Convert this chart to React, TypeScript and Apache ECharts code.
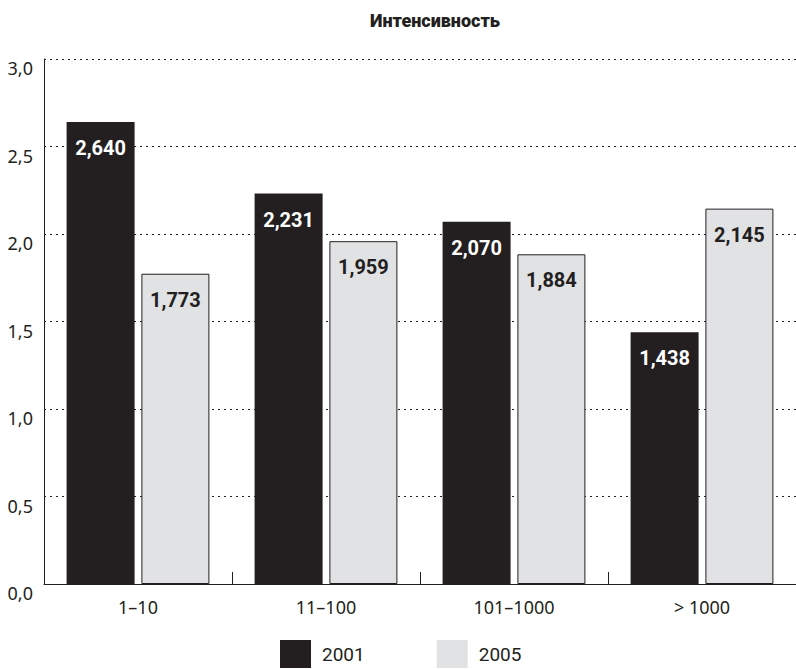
import React, { useEffect, useRef } from "react";
import * as echarts from "echarts";

const categories = ["1–10", "11–100", "101–1000", "> 1000"];
const series2001 = [2.64, 2.231, 2.07, 1.438];
const series2005 = [1.773, 1.959, 1.884, 2.145];
const seriesNames = ["2001", "2005"];
const titleText = "Интенсивность";

const DARK = "#231f20";
const LIGHT = "#e1e2e4";
const REG = "'Noto Sans', 'Open Sans', sans-serif";
const COND = "Roboto, 'Noto Sans', sans-serif";

const fmt = (v: number) => v.toFixed(3).replace(".", ",");

export default function App() {
  const ref = useRef<HTMLDivElement>(null);
  useEffect(() => {
    document.body.style.margin = "0";
    const chart = echarts.init(ref.current!, null, { renderer: "svg" });
    chart.setOption({
      animation: false,
      backgroundColor: "#ffffff",
      title: {
        text: titleText,
        left: 430,
        textAlign: "center",
        top: 6,
        textStyle: { fontFamily: COND, fontWeight: 900, fontSize: 18, color: DARK },
      },
      legend: {
        data: [
          { name: seriesNames[0], itemStyle: { borderWidth: 0 } },
          { name: seriesNames[1], itemStyle: { borderWidth: 0 } },
        ],
        left: 280,
        top: 640,
        padding: 0,
        itemWidth: 31,
        itemHeight: 28,
        itemGap: 72,
        icon: "rect",
        textStyle: { fontFamily: COND, fontSize: 19, color: DARK, padding: [0, 0, 0, 6] },
      },
      grid: { left: 44, right: 0, top: 59, bottom: 85, containLabel: false },
      xAxis: {
        type: "category",
        data: categories,
        axisLine: { show: true, lineStyle: { color: DARK, width: 1 } },
        axisTick: { show: true, inside: true, length: 12, lineStyle: { color: DARK } },
        axisLabel: { fontFamily: REG, fontSize: 18, color: DARK, margin: 14 },
      },
      yAxis: {
        type: "value",
        min: 0,
        max: 3,
        interval: 0.5,
        axisLine: { show: true, lineStyle: { color: DARK, width: 1 } },
        axisTick: { show: false },
        axisLabel: {
          fontFamily: REG,
          fontSize: 18,
          color: DARK,
          margin: 11,
          verticalAlign: "top",
          formatter: (v: number) => v.toFixed(1).replace(".", ","),
        },
        splitLine: { show: true, lineStyle: { color: DARK, type: [2, 4], width: 1 } },
      },
      series: [
        {
          name: seriesNames[0],
          type: "bar",
          data: series2001,
          barWidth: 68,
          barGap: "10%",
          itemStyle: { color: DARK },
          label: {
            show: true,
            position: "insideTop",
            distance: 16,
            formatter: (p: any) => fmt(p.value),
            fontFamily: COND,
            fontWeight: "bold",
            fontSize: 20,
            color: "#ffffff",
          },
        },
        {
          name: seriesNames[1],
          type: "bar",
          data: series2005,
          barWidth: 68,
          itemStyle: { color: LIGHT, borderColor: DARK, borderWidth: 1 },
          label: {
            show: true,
            position: "insideTop",
            distance: 16,
            formatter: (p: any) => fmt(p.value),
            fontFamily: COND,
            fontWeight: "bold",
            fontSize: 20,
            color: DARK,
          },
        },
      ],
    });
    return () => chart.dispose();
  }, []);
  return <div ref={ref} style={{ width: 796, height: 669 }} />;
}
